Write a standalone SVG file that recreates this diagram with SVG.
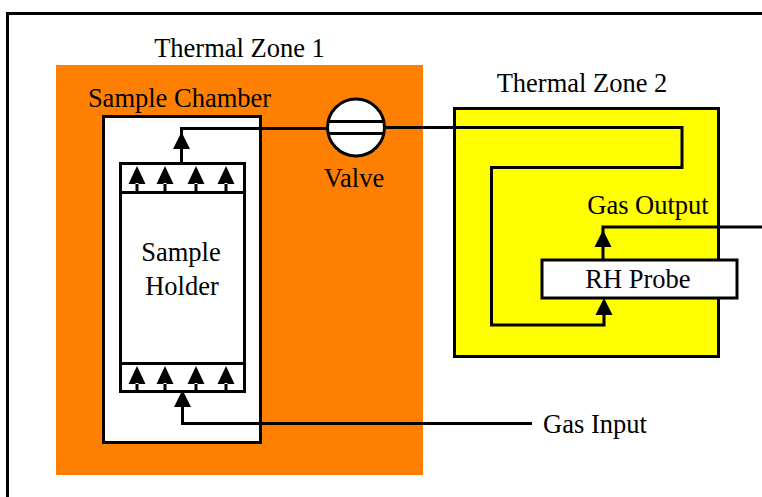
<svg xmlns="http://www.w3.org/2000/svg" width="762" height="497" viewBox="0 0 762 497">
<style>
.b{stroke:#000;stroke-width:3;fill:none}
.w{stroke:#000;stroke-width:3;fill:#fff}
.t{font-family:"Liberation Serif","Times New Roman",serif;font-size:26.500px;fill:#000;text-anchor:middle}
</style>
<defs>
<path id="a" d="M0 -1L-8.500 16H8.500Z" fill="#000"/>
<path id="s" d="M0 -1L-8.500 17H8.500Z M-1.500 16H1.500V25H-1.500Z" fill="#000"/>
</defs>
<rect width="762" height="497" fill="#fff"/>
<path id="frame" class="b" d="M762 13.500H7.500V497"/>
<g id="zone1"><rect x="56" y="65" width="367" height="410" fill="#ff8000"/><text class="t" x="239.500" y="57">Thermal Zone 1</text></g>
<g id="zone2"><rect x="454.500" y="108.500" width="264" height="248" fill="#ff0" stroke="#000" stroke-width="3"/><text class="t" x="582" y="92">Thermal Zone 2</text></g>
<g id="chamber"><rect class="w" x="103.500" y="116.500" width="157" height="326"/><text class="t" x="179.500" y="107">Sample Chamber</text></g>
<g id="holder">
<rect class="w" x="120.500" y="163.500" width="124" height="228"/>
<path class="b" d="M120.500 192.500H244.500M120.500 363.500H244.500"/>
<use href="#s" x="137" y="167"/><use href="#s" x="165" y="167"/><use href="#s" x="196" y="167"/><use href="#s" x="226" y="167"/>
<use href="#s" x="137" y="367"/><use href="#s" x="165" y="367"/><use href="#s" x="196" y="367"/><use href="#s" x="226" y="367"/>
<text class="t" x="181" y="261">Sample</text><text class="t" x="182" y="295">Holder</text>
</g>
<g id="connectors">
<path class="b" d="M181.500 163V128.500H330"/>
<use href="#a" x="181.500" y="133"/>
<path class="b" d="M385 127.500H682V167.500H491.500V325H604V312"/>
<path class="b" d="M603 260V227H762"/>
<use href="#a" x="603" y="231"/>
<path class="b" d="M182.500 400V423.500H532"/>
<use href="#a" x="182.500" y="391"/>
</g>
<g id="probe"><rect class="w" x="542" y="260" width="195" height="38"/><text class="t" x="638" y="288">RH Probe</text></g>
<use href="#a" x="604" y="299"/>
<g id="valve">
<circle class="w" cx="356" cy="127.500" r="28.500"/>
<path class="b" d="M329 121.500H383M329 133.500H383"/>
<text class="t" x="354" y="187">Valve</text>
</g>
<g id="gasOutput"><text class="t" x="648" y="214">Gas Output</text></g>
<g id="gasInput"><text class="t" x="595" y="433">Gas Input</text></g>
</svg>
